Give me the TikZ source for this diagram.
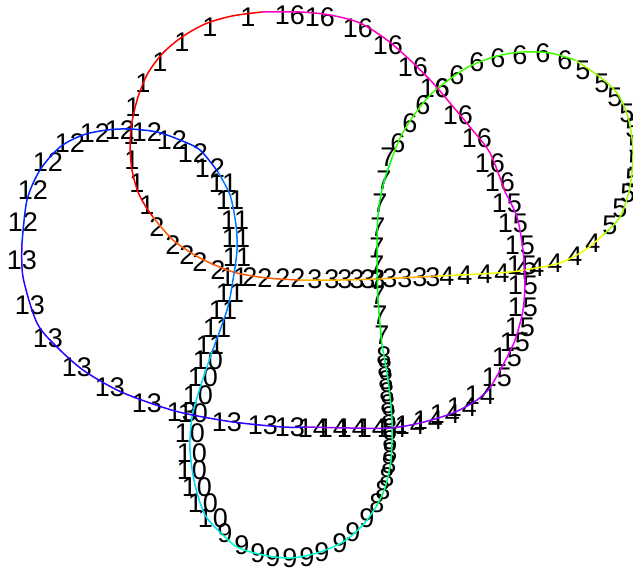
\documentclass[tikz,border=0pt]{standalone}
\usepackage{fontspec}
\setmainfont{Liberation Sans}
% one hue for each numbered part of the curve
\definecolor{c1}{Hsb}{0,1,1}
\definecolor{c2}{Hsb}{21,1,1}
\definecolor{c3}{Hsb}{42,1,1}
\definecolor{c4}{Hsb}{63,1,1}
\definecolor{c5}{Hsb}{84,1,1}
\definecolor{c6}{Hsb}{105,1,1}
\definecolor{c7}{Hsb}{126,1,1}
\definecolor{c8}{Hsb}{147,1,1}
\definecolor{c9}{Hsb}{168,1,1}
\definecolor{c10}{Hsb}{189,1,1}
\definecolor{c11}{Hsb}{210,1,1}
\definecolor{c12}{Hsb}{231,1,1}
\definecolor{c13}{Hsb}{252,1,1}
\definecolor{c14}{Hsb}{273,1,1}
\definecolor{c15}{Hsb}{294,1,1}
\definecolor{c16}{Hsb}{315,1,1}
\tikzset{
  part/.style={line width=1.5pt,line join=round},
  tag/.style={inner sep=0pt,font=\fontsize{27}{27}\selectfont}
}
\begin{document}
\begin{tikzpicture}[x=1pt,y=-1pt]
    \useasboundingbox (0,0) rectangle (633,570);
    \clip (0,0) rectangle (633,570);
    % numbers along the curve
    \foreach \x/\y/\n [count=\i] in {
      248/17/1, 210/27/1, 182/42/1, 160/62/1, 143/83/1, 133/107/1, 131/135/1, 132/160/1, 137/183/1, 147/205/1,
      157/227/2, 173/245/2, 187/255/2, 200/262/2, 218/270/2, 250/277/2, 265/278/2, 283/278/2, 298/278/2,
      315/279/3, 332/279/3, 345/279/3, 357/279/3, 368/279/3, 378/279/3, 390/278/3, 405/278/3, 420/277/3, 433/277/3,
      447/276/4, 465/275/4, 485/274/4, 502/273/4, 522/270/4, 537/267/4, 555/263/4, 575/256/4, 593/243/4,
      583/70/5, 602/83/5, 615/97/5, 627/113/5, 633/128/5, 636/145/5, 636/162/5, 633/178/5, 628/193/5, 620/208/5, 610/225/5,
      398/143/6, 410/123/6, 423/105/6, 442/88/6, 457/75/6, 477/62/6, 498/58/6, 520/55/6, 543/53/6, 565/60/6,
      388/157/7, 384/180/7, 380/203/7, 378/227/7, 377/247/7, 377/265/7, 377/280/7, 378/295/7, 380/315/7, 382/335/7,
      384/356/8, 385/368/8, 386/380/8, 387/392/8, 388/404/8, 389/416/8, 390/428/8, 390/440/8, 390/452/8, 389/464/8, 387/477/8, 383/490/8, 377/503/8,
      225/533/9, 242/545/9, 258/553/9, 273/557/9, 290/558/9, 307/557/9, 322/552/9, 340/543/9, 353/532/9, 367/518/9,
      213/518/10, 203/503/10, 197/487/10, 192/470/10, 192/453/10, 190/433/10, 193/413/10, 198/395/10, 203/377/10, 208/360/10,
      210/345/11, 217/328/11, 223/310/11, 230/293/11, 234/277/11, 237/257/11, 236/238/11, 235/220/11, 230/200/11, 223/183/11,
      210/168/12, 193/153/12, 172/140/12, 147/132/12, 120/130/12, 95/133/12, 70/143/12, 48/162/12, 33/190/12, 23/222/12,
      22/260/13, 30/305/13, 48/338/13, 77/367/13, 110/387/13, 147/403/13, 182/412/13, 227/422/13, 263/425/13, 290/427/13,
      313/428/14, 333/428/14, 352/428/14, 372/428/14, 392/428/14, 410/425/14, 428/420/14, 445/414/14, 462/407/14, 480/395/14,
      497/377/15, 507/357/15, 515/342/15, 520/327/15, 523/307/15, 523/285/15, 522/265/15, 520/245/15, 513/223/15, 507/203/15,
      500/182/16, 490/163/16, 477/138/16, 458/115/16, 435/88/16, 413/67/16, 388/45/16, 358/28/16, 320/17/16, 290/15/16}
      \node[tag] (t\i) at (\x,\y) {\n};
    % the curve, part by part
    \draw[part,c1] plot[smooth] coordinates {(262,12) (232,16) (205,24) (182,37) (163,53) (148,73) (138,97) (132,122) (130,145) (132,170) (138,192) (146,207) (153,217)};
    \draw[part,c2] plot[smooth] coordinates {(153,217) (173,240) (200,258) (233,272) (267,278) (300,280)};
    \draw[part,c3] plot[smooth] coordinates {(300,280) (340,280) (377,279) (438,276)};
    \draw[part,c4] plot[smooth] coordinates {(438,276) (480,274) (510,272) (530,269) (560,263) (585,250) (603,235)};
    \draw[part,c5] plot[smooth] coordinates {(603,235) (620,217) (630,187) (633,150) (628,117) (617,93) (600,77) (575,60)};
    \draw[part,c6] plot[smooth] coordinates {(575,60) (550,53) (523,52) (497,56) (470,66) (450,79) (430,95) (412,118) (400,138) (392,158)};
    \draw[part,c7] plot[smooth] coordinates {(392,158) (383,185) (378,215) (377,250) (378,300) (382,345)};
    \draw[part,c8] plot[smooth] coordinates {(382,345) (388,380) (392,420) (391,460) (385,488) (376,507)};
    \draw[part,c9] plot[smooth] coordinates {(376,507) (363,525) (343,542) (317,553) (290,558) (263,555) (237,547) (220,532)};
    \draw[part,c10] plot[smooth] coordinates {(220,532) (205,515) (195,485) (190,450) (192,417) (200,388) (212,352)};
    \draw[part,c11] plot[smooth] coordinates {(212,352) (227,310) (233,280) (237,250) (236,225) (230,195) (218,172)};
    \draw[part,c12] plot[smooth] coordinates {(218,172) (200,150) (180,140) (157,132) (130,129) (107,130) (83,135) (60,147) (40,170) (27,200) (22,243)};
    \draw[part,c13] plot[smooth] coordinates {(22,243) (23,277) (37,323) (57,347) (83,370) (117,390) (150,403) (183,413) (233,422) (283,427) (305,427)};
    \draw[part,c14] plot[smooth] coordinates {(305,427) (350,428) (390,428) (420,423) (453,413) (477,400) (490,388)};
    \draw[part,c15] plot[smooth] coordinates {(490,388) (503,365) (515,340) (523,310) (525,280) (523,250) (517,217) (505,192)};
    \draw[part,c16] plot[smooth] coordinates {(505,192) (490,153) (470,127) (450,103) (433,83) (410,60) (387,40) (360,23) (330,15) (300,12) (262,12)};
\end{tikzpicture}
\end{document}
